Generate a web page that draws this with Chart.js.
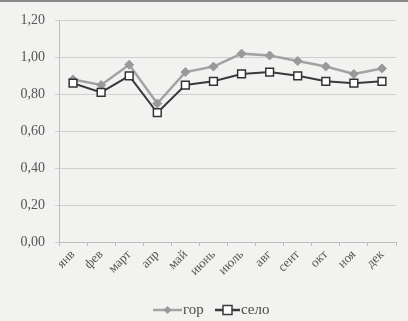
<!DOCTYPE html>
<html>
<head>
<meta charset="utf-8">
<script src="https://cdn.jsdelivr.net/npm/chart.js@4/dist/chart.umd.min.js"></script>
<style>
  html, body { margin: 0; padding: 0; background: #f2f2f0; }
  #wrap { position: relative; width: 408px; height: 321px; border-top: 2px solid #8a8a8a; box-sizing: border-box; }
  canvas { display: block; }
</style>
</head>
<body>
<div id="wrap"><canvas id="c" width="408" height="319"></canvas></div>
<script>
// Months and the two series (город / село)
const months = ['янв', 'фев', 'март', 'апр', 'май', 'июнь', 'июль', 'авг', 'сент', 'окт', 'ноя', 'дек'];
const gorValues  = [0.88, 0.85, 0.96, 0.75, 0.92, 0.95, 1.02, 1.01, 0.98, 0.95, 0.91, 0.94];
const seloValues = [0.86, 0.81, 0.90, 0.70, 0.85, 0.87, 0.91, 0.92, 0.90, 0.87, 0.86, 0.87];
const seriesNames = ['гор', 'село'];

const FONT = '"Liberation Serif", "Times New Roman", serif';
const GOR_COLOR = '#a3a3a3';
const SELO_COLOR = '#3a3a3a';

// Excel-style legend: a short line with the marker on it, then the name
const bottomLegend = {
  id: 'bottomLegend',
  afterDraw(chart) {
    const ctx = chart.ctx;
    const y = 308;
    const items = [
      { name: seriesNames[0], x: 153, len: 29, color: GOR_COLOR, shape: 'diamond' },
      { name: seriesNames[1], x: 215, len: 25, color: SELO_COLOR, shape: 'square' }
    ];
    ctx.save();
    ctx.font = '15px ' + FONT;
    ctx.textBaseline = 'middle';
    items.forEach(it => {
      ctx.strokeStyle = it.color;
      ctx.lineWidth = 2.5;
      ctx.beginPath();
      ctx.moveTo(it.x, y);
      ctx.lineTo(it.x + it.len, y);
      ctx.stroke();
      const cx = it.x + it.len / 2;
      if (it.shape === 'diamond') {
        ctx.fillStyle = '#999';
        ctx.beginPath();
        ctx.moveTo(cx, y - 4);
        ctx.lineTo(cx + 4, y);
        ctx.lineTo(cx, y + 4);
        ctx.lineTo(cx - 4, y);
        ctx.closePath();
        ctx.fill();
      } else {
        ctx.fillStyle = '#fff';
        ctx.lineWidth = 1.5;
        ctx.fillRect(cx - 4.5, y - 4.5, 9, 9);
        ctx.strokeRect(cx - 4.5, y - 4.5, 9, 9);
      }
      ctx.fillStyle = '#4a4a4a';
      ctx.fillText(it.name, it.x + it.len + 1, y);
    });
    ctx.restore();
  }
};

new Chart(document.getElementById('c'), {
  type: 'line',
  data: {
    labels: months,
    datasets: [
      {
        label: seriesNames[0],
        data: gorValues,
        borderColor: GOR_COLOR,
        borderWidth: 2.5,
        pointStyle: 'rectRot',
        pointRadius: 4.5,
        pointBackgroundColor: '#999',
        pointBorderColor: '#999',
        pointBorderWidth: 1,
        tension: 0,
        order: 1
      },
      {
        label: seriesNames[1],
        data: seloValues,
        borderColor: SELO_COLOR,
        borderWidth: 2,
        pointStyle: 'rect',
        pointRadius: 5.5,
        pointBackgroundColor: '#ffffff',
        pointBorderColor: '#333',
        pointBorderWidth: 1.5,
        tension: 0,
        order: 0
      }
    ]
  },
  options: {
    responsive: false,
    animation: false,
    layout: { padding: { top: 15, right: 12, left: 0, bottom: 0 } },
    plugins: {
      legend: { display: false },
      tooltip: { enabled: false }
    },
    scales: {
      x: {
        offset: true,
        grid: { display: true, drawOnChartArea: false, color: '#bdbdbd', tickLength: 4, offset: true },
        border: { color: '#bdbdbd' },
        ticks: {
          minRotation: 45,
          maxRotation: 45,
          color: '#555',
          font: { family: FONT, size: 13 },
          padding: 1
        },
        afterFit(scale) { scale.height = 79; }
      },
      y: {
        min: 0,
        max: 1.2,
        grid: { color: '#cfcfcf', tickLength: 4 },
        border: { color: '#bdbdbd' },
        ticks: {
          stepSize: 0.2,
          color: '#555',
          font: { family: FONT, size: 14 },
          padding: 10,
          callback: v => v.toFixed(2).replace('.', ',')
        },
        afterFit(scale) { scale.width = 59; }
      }
    }
  },
  plugins: [bottomLegend]
});
</script>
</body>
</html>
